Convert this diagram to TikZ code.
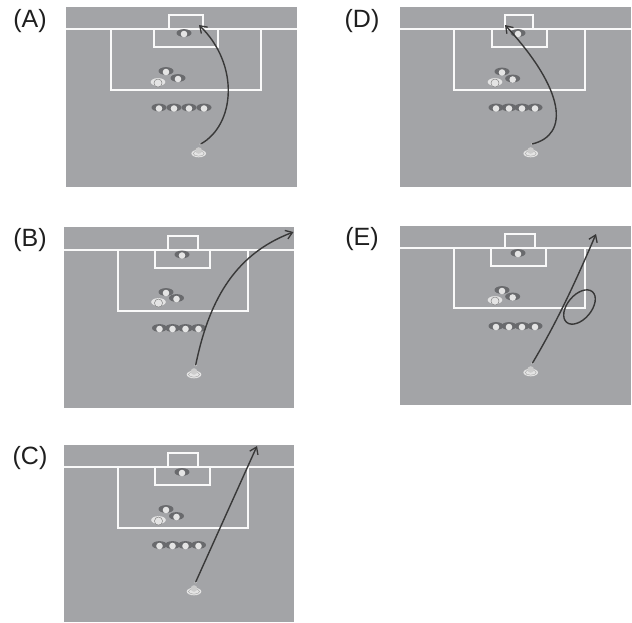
\documentclass[tikz,border=0pt]{standalone}
\usepackage{fontspec}
\setmainfont{Liberation Sans}
\usetikzlibrary{arrows.meta,calc}
\definecolor{pitch}{RGB}{163,164,167}
\definecolor{dk}{RGB}{105,106,109}
\definecolor{lite}{RGB}{228,228,228}
\tikzset{
 x=1pt,y=-1pt,
 pline/.style={draw=white!95!gray,line width=1.5pt},
 tag/.style={font=\fontsize{25}{27}\selectfont,text=black!88,inner sep=0pt,anchor=center},
 shot/.style={draw=black!78,line width=1.4pt,line cap=round,-{Straight Barb[length=6.5pt,width=9pt,line width=1.3pt]}},
}
\newcommand{\dplayer}[1]{%
 \fill[dk] (#1) ellipse [x radius=7.5pt,y radius=3.9pt];
 \fill[lite] ($(#1)+(0,1)$) circle [radius=3.3pt];}
\newcommand{\lplayer}[1]{%
 \fill[lite] (#1) ellipse [x radius=7.3pt,y radius=3.9pt];
 \draw[gray,line width=.5pt] ($(#1)+(0,1)$) circle [radius=4pt];
 \fill[lite] ($(#1)+(0,1.5)$) circle [radius=3.2pt];}
\newcommand{\kplayer}[1]{%
 \fill[lite] ($(#1)+(0,1.5)$) ellipse [x radius=7.3pt,y radius=3.8pt];
 \draw[gray!70,line width=.4pt] ($(#1)+(0,1.5)$) ellipse [x radius=5.5pt,y radius=2.6pt];
 \fill[black!20] ($(#1)+(0,-1.5)$) circle [radius=3.3pt];}
\newcommand{\pitchlines}[9]{% x0,x1,gy,gl,gr,gt,sl,sr,sb
 \draw[pline] (#1,#3) -- (#2,#3);
 \draw[pline] (#4,#3) -- (#4,#6) -- (#5,#6) -- (#5,#3);
 \draw[pline] (#7,#3) -- (#7,#9) -- (#8,#9) -- (#8,#3);}
\newcommand{\penbox}[4]{\draw[pline] (#1,#4) -- (#1,#3) -- (#2,#3) -- (#2,#4);}
\newcommand{\squad}[9]{% keeper xy, d1, d2, lite, wall x
 \coordinate (k) at (#1,#2); \dplayer{k}
 \coordinate (a) at (#3,#4); \dplayer{a}
 \coordinate (b) at (#5,#6); \dplayer{b}
 \coordinate (c) at (#7,#8); \lplayer{c}
 \foreach \i in {0,1,2,3}{\coordinate (w) at (#9+\walld*\i,\wally); \dplayer{w}}
 \coordinate (t) at (\kx,\ky); \kplayer{t}}
\begin{document}
\begin{tikzpicture}
\useasboundingbox (0,0) rectangle (632,622);
\fill[white] (0,0) rectangle (632,622);
% ---- A
\fill[pitch] (66,7) rectangle (297,187);
\pitchlines{66}{297}{29}{169}{203}{15}{154}{218}{47}
\penbox{111}{261}{90}{29}
\def\walld{15}\def\wally{107.5}\def\kx{198.7}\def\ky{152}
\squad{184}{33}{166}{71}{178}{78}{158}{82}{159}
\coordinate (Ab) at (200.7,144); \fill[white] (Ab) circle [radius=1.2pt];
\coordinate (At) at (199,25);
\draw[shot] (Ab) .. controls (235,125) and (240,65) .. (At);
\node[tag] (Al) at (30,21) {(A)};
% ---- B
\fill[pitch] (64,227) rectangle (294,408);
\pitchlines{64}{294}{250}{168}{198}{236}{155}{210}{268}
\penbox{118}{248}{311}{250}
\def\walld{13}\def\wally{328}\def\kx{194}\def\ky{373}
\squad{182}{254.5}{166}{292}{176.5}{298}{158.5}{302}{159.5}
\coordinate (Bb) at (195.7,365); \fill[white] (Bb) circle [radius=1.2pt];
\coordinate (Bt) at (293.5,232);
\draw[shot] (Bb) .. controls (208,305) and (232,255) .. (Bt);
\node[tag] (Bl) at (30,240) {(B)};
% ---- C
\fill[pitch] (64,445) rectangle (294,622);
\pitchlines{64}{294}{467}{168}{198}{453}{155}{210}{485}
\penbox{118}{248}{528}{467}
\def\walld{13}\def\wally{545}\def\kx{194}\def\ky{590}
\squad{182}{472}{166}{509}{176.5}{516}{158.5}{520}{159.5}
\coordinate (Cb) at (195.7,582); \fill[white] (Cb) circle [radius=1.2pt];
\coordinate (Ct) at (257,446);
\draw[shot] (Cb) -- (Ct);
\node[tag] (Cl) at (30,458) {(C)};
% ---- D
\fill[pitch] (400,7) rectangle (631,187);
\pitchlines{400}{631}{29}{505}{533}{15}{492}{547}{47}
\penbox{454}{585}{90}{29}
\def\walld{13}\def\wally{107.5}\def\kx{530.7}\def\ky{152}
\squad{518}{33}{502}{71.5}{512.7}{78.5}{495}{82}{496}
\coordinate (Db) at (532,144); \fill[white] (Db) circle [radius=1.2pt];
\coordinate (Dt) at (505,25);
\draw[shot] (Db) .. controls (570,135) and (565,90) .. (Dt);
\node[tag] (Dl) at (362,21) {(D)};
% ---- E
\fill[pitch] (400,226) rectangle (631,405);
\pitchlines{400}{631}{248}{505}{535}{234}{491}{546}{266}
\penbox{454}{585}{308}{248}
\def\walld{13}\def\wally{326}\def\kx{530.7}\def\ky{371}
\squad{518}{253}{502}{290}{512.7}{296.5}{495}{300}{496}
\coordinate (Eb) at (532.5,363); \fill[white] (Eb) circle [radius=1.2pt];
\coordinate (Et) at (596,234);
\draw[shot] (Eb) .. controls (555,325) and (572,290) .. (Et);
\coordinate (Ec) at (579.5,307);
\draw[black!78,line width=1.4pt,rotate around={50:(Ec)}] (Ec) ellipse [x radius=20pt,y radius=12pt];
\node[tag] (El) at (362,239) {(E)};
\end{tikzpicture}
\end{document}
